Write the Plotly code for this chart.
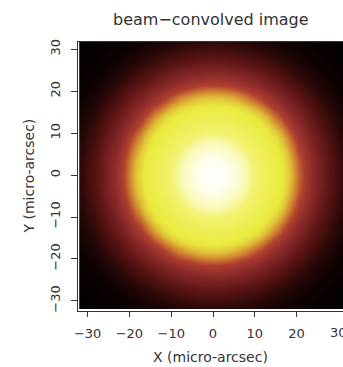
import numpy as np
import plotly.graph_objects as go

# Radial brightness profile (radius in micro-arcsec -> normalised intensity)
profile_r = [0, 4, 8, 10, 14, 17, 18.5, 20, 21.5, 24, 28, 32, 36, 45]
profile_v = [1.0, 0.97, 0.88, 0.80, 0.75, 0.71, 0.64, 0.56, 0.48, 0.40, 0.28, 0.16, 0.08, 0.0]

# pixel centres of the image grid
x_centres = np.arange(-31.5, 32.0, 1.0)
y_centres = np.arange(-31.5, 32.0, 1.0)

tick_vals = [-30, -20, -10, 0, 10, 20, 30]
tick_text = ["\u221230", "\u221220", "\u221210", "0", "10", "20", "30"]

heat_scale = [
    [0.00, "#000000"],
    [0.08, "#0e0202"],
    [0.16, "#2a0808"],
    [0.28, "#5a1414"],
    [0.40, "#8a2a2a"],
    [0.48, "#b04030"],
    [0.56, "#d08030"],
    [0.64, "#e0c038"],
    [0.72, "#eaea40"],
    [0.80, "#f2f270"],
    [0.90, "#fafac0"],
    [1.00, "#ffffff"],
]

XX, YY = np.meshgrid(x_centres, y_centres)
RR = np.sqrt(XX**2 + YY**2)
Z = np.interp(RR, profile_r, profile_v)

fig = go.Figure(go.Heatmap(
    x=x_centres, y=y_centres, z=Z,
    colorscale=heat_scale, zmin=0, zmax=1,
    showscale=False, zsmooth="best", hoverinfo="skip",
))

font = "DejaVu Sans, Liberation Sans, sans-serif"
fig.update_layout(
    width=343, height=367,
    margin=dict(l=78, r=0, t=42, b=56),
    paper_bgcolor="white", plot_bgcolor="white",
    font=dict(family=font, size=13, color="#333333"),
    showlegend=False,
)
fig.update_xaxes(
    range=[-32.3, 31.1], tickvals=tick_vals[:-1], ticktext=tick_text[:-1],
    ticks="outside", ticklen=5, tickcolor="#333333", tickwidth=1,
    showgrid=False, zeroline=False, showline=True, linecolor="#333333", linewidth=1,
    mirror=True, automargin=False, ticklabelstandoff=5,
)
fig.update_yaxes(
    range=[-32.4, 31.7], tickvals=tick_vals, ticktext=tick_text,
    ticks="outside", ticklen=6, tickcolor="#333333", tickwidth=1, tickangle=-90,
    showgrid=False, zeroline=False, showline=True, linecolor="#333333", linewidth=1,
    mirror=True, automargin=False, ticklabelstandoff=6,
)
# last x tick label sits at the right edge and is cut off by the page edge, as in the reference
fig.add_annotation(text=tick_text[-1], xref="x", yref="paper",
                   x=tick_vals[-1], y=0, yanchor="middle", yshift=-21, showarrow=False,
                   font=dict(size=13, color="#333333", family=font))
fig.add_annotation(text="beam\u2212convolved image", xref="paper", yref="paper",
                   x=0.5, y=1, yanchor="middle", yshift=23, showarrow=False,
                   font=dict(size=16, color="#333333", family=font))
fig.add_annotation(text="X (micro-arcsec)", xref="paper", yref="paper",
                   x=0.5, y=0, yanchor="middle", yshift=-46, showarrow=False,
                   font=dict(size=14, color="#333333", family=font))
fig.add_annotation(text="Y (micro-arcsec)", xref="paper", yref="paper",
                   x=0, y=0.5, xanchor="center", yanchor="middle", xshift=-50,
                   textangle=-90, showarrow=False,
                   font=dict(size=14, color="#333333", family=font))

fig.write_html(
    "out.html",
    config={"displayModeBar": False},
    post_script="document.body.style.margin='0';document.body.style.overflow='hidden';",
)
